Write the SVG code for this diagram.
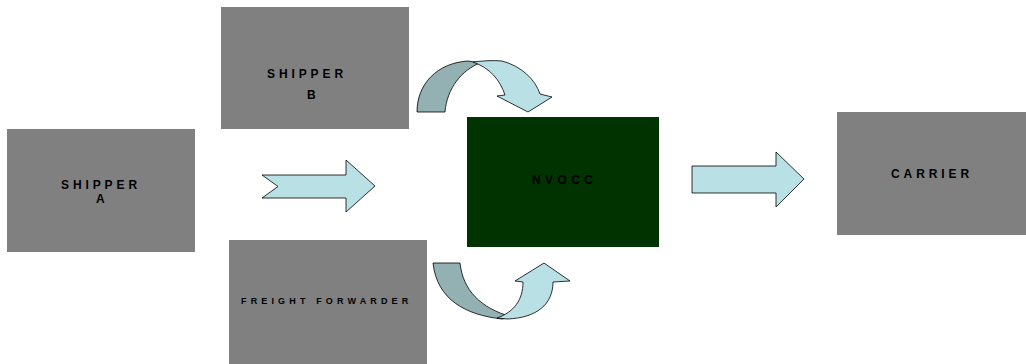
<svg xmlns="http://www.w3.org/2000/svg" width="1026" height="364" viewBox="0 0 1026 364">
<style>
.box{fill:#808080}
.lbl{font-family:"Liberation Sans",Arial,sans-serif;font-weight:bold;fill:#000}
.light{fill:#b9e0e4;stroke:#000;stroke-width:0.8;stroke-linejoin:miter}
.dark{fill:#93b0b2;stroke:#000;stroke-width:0.8}
</style>
<rect width="1026" height="364" fill="#fff"/>
<g id="shipper-a">
<rect class="box" x="7" y="129" width="188" height="123"/>
<text class="lbl" x="61" y="189" font-size="12" letter-spacing="3.9">SHIPPER</text>
<text class="lbl" x="96" y="203" font-size="12">A</text>
</g>
<g id="shipper-b">
<rect class="box" x="221" y="7" width="188" height="122"/>
<text class="lbl" x="267" y="78" font-size="12" letter-spacing="3.9">SHIPPER</text>
<text class="lbl" x="307" y="99" font-size="12">B</text>
</g>
<g id="freight-forwarder">
<rect class="box" x="229" y="240" width="198" height="124"/>
<text class="lbl" x="241" y="304" font-size="9" letter-spacing="4.15">FREIGHT FORWARDER</text>
</g>
<g id="nvocc">
<rect x="467" y="117" width="192" height="130" fill="#003300"/>
<text class="lbl" x="532" y="184" font-size="12" letter-spacing="4.4">NVOCC</text>
</g>
<g id="carrier">
<rect class="box" x="837" y="112" width="189" height="123"/>
<text class="lbl" x="891" y="178" font-size="12" letter-spacing="3.9">CARRIER</text>
</g>
<g id="connectors">
<polygon class="light" points="262,175 346,175 346,160 375,186 346,212 346,198 262,198 278,186.5"/>
<polygon class="light" points="692,166 776,166 776,152 804,179 776,207 776,193 692,193"/>
<path class="dark" d="M417,112 C417,84 437,63 468,61 L480,63 C462,70 447,88 445,112 Z"/>
<path class="light" d="M473,62 C482,61 492,60 502,61 C521,66 535,79 540,94 L552,97 L528,112 L497,96 L505,95 C500,80 490,68 473,62 Z"/>
<path class="dark" d="M433,263 L460,263 C463,290 480,308 512,317 L502,319 C466,315 437,300 433,263 Z"/>
<path class="light" d="M497,318 C514,312 523,300 523,282 L515,281 L544,263 L570,281 L553,282 C553,304 537,318 507,319 Z"/>
</g>
</svg>
